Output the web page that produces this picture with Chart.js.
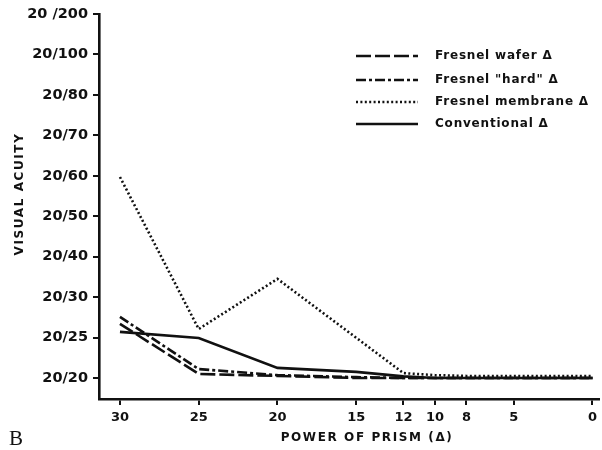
<!DOCTYPE html>
<html lang="en">
<head>
<meta charset="UTF-8">
<title>Visual acuity vs power of prism</title>
<style>
  body { margin: 0; background: #fff; }
  #wrap { width: 602px; height: 450px; position: relative; }
</style>
</head>
<body>
<div id="wrap"><canvas id="chart" width="602" height="450"></canvas></div>
<script src="https://cdn.jsdelivr.net/npm/chart.js@4.4.1/dist/chart.umd.js"></script>
<script>
// power of prism (diopters) read along the x axis
const powers = [30, 25, 20, 15, 12, 10, 8, 5, 0];
const membranePowers = [30, 25, 20, 12, 10, 8, 5, 0];
const xTicks = [30, 25, 20, 15, 12, 10, 8, 5, 0];

// y axis is evenly spaced Snellen steps, index 0 = 20/20
const acuityLabels = ['20/20', '20/25', '20/30', '20/40', '20/50', '20/60', '20/70', '20/80', '20/100', '20 /200'];

// values as step index (fractions = between steps)
const wafer        = [1.34, 0.10, 0.05, 0.00, 0.00, 0.00, 0.00, 0.00, 0.00];
const hard         = [1.51, 0.22, 0.07, 0.02, 0.00, 0.00, 0.00, 0.00, 0.00];
const conventional = [1.14, 0.99, 0.25, 0.15, 0.04, 0.00, 0.00, 0.00, 0.00];
const membrane     = [4.97, 1.21, 2.45, 0.12, 0.07, 0.05, 0.05, 0.05];

const seriesNames = ['Fresnel wafer \u0394', 'Fresnel "hard" \u0394', 'Fresnel membrane \u0394', 'Conventional \u0394'];

function pts(xs, ys) {
  return xs.map((x, i) => ({ x: x, y: ys[i] }));
}

const BOLD = '"DejaVu Sans", Arial, sans-serif';

const lineStyles = [
  { borderDash: [15, 4], borderWidth: 2.6, borderCapStyle: 'butt' },
  { borderDash: [10, 3, 3, 3], borderWidth: 2.6, borderCapStyle: 'butt' },
  { borderDash: [2, 2.4], borderWidth: 2.6, borderCapStyle: 'butt' },
  { borderDash: [], borderWidth: 2.6, borderCapStyle: 'butt' }
];

// legend + free texts drawn on top
const extras = {
  id: 'extras',
  afterDraw(chart) {
    const ctx = chart.ctx;
    ctx.save();
    const rows = [56, 80, 102, 124];
    chart.data.datasets.forEach((ds, i) => {
      ctx.beginPath();
      ctx.strokeStyle = '#111';
      ctx.lineWidth = ds.borderWidth;
      ctx.setLineDash(ds.borderDash);
      ctx.moveTo(356, rows[i]);
      ctx.lineTo(418, rows[i]);
      ctx.stroke();
      ctx.setLineDash([]);
      ctx.fillStyle = '#111';
      ctx.font = 'bold 12px ' + BOLD;
      ctx.letterSpacing = '0.8px';
      ctx.textBaseline = 'middle';
      ctx.textAlign = 'left';
      ctx.fillText(seriesNames[i], 435, rows[i]);
    });

    // axis titles
    ctx.font = 'bold 12px ' + BOLD;
    ctx.letterSpacing = '1.6px';
    ctx.textAlign = 'center';
    ctx.textBaseline = 'middle';
    ctx.fillText('POWER OF PRISM (\u0394)', 367, 438);
    ctx.translate(20, 194);
    ctx.rotate(-Math.PI / 2);
    ctx.fillText('VISUAL ACUITY', 0, 0);
    ctx.restore();

    ctx.save();
    ctx.fillStyle = '#111';
    ctx.font = '21px "Liberation Serif", serif';
    ctx.textAlign = 'left';
    ctx.textBaseline = 'middle';
    ctx.fillText('B', 9, 439);
    ctx.restore();
  }
};

new Chart(document.getElementById('chart'), {
  type: 'line',
  data: {
    datasets: [
      Object.assign({ label: seriesNames[0], data: pts(powers, wafer) }, lineStyles[0]),
      Object.assign({ label: seriesNames[1], data: pts(powers, hard) }, lineStyles[1]),
      Object.assign({ label: seriesNames[2], data: pts(membranePowers, membrane) }, lineStyles[2]),
      Object.assign({ label: seriesNames[3], data: pts(powers, conventional) }, lineStyles[3])
    ].map(d => Object.assign(d, { borderColor: '#111', pointRadius: 0, tension: 0, fill: false }))
  },
  options: {
    responsive: false,
    animation: false,
    layout: { padding: { top: 14, right: 1, left: 0, bottom: 0 } },
    plugins: { legend: { display: false }, tooltip: { enabled: false } },
    scales: {
      x: {
        type: 'linear',
        reverse: true,
        min: -0.4,
        max: 31.33,
        afterBuildTicks: s => { s.ticks = xTicks.map(v => ({ value: v })); },
        afterFit: s => { s.height = 51; },
        grid: { display: true, drawOnChartArea: false, drawTicks: true, tickLength: 6, color: '#111', lineWidth: 2 },
        border: { display: true, color: '#111', width: 2.6 },
        ticks: { color: '#111', font: { family: BOLD, weight: 'bold', size: 13 }, padding: 5, maxRotation: 0, autoSkip: false }
      },
      y: {
        type: 'linear',
        min: -0.52,
        max: 9,
        afterBuildTicks: s => { s.ticks = acuityLabels.map((l, i) => ({ value: i })); },
        afterFit: s => { s.width = 99; },
        grid: { display: true, drawOnChartArea: false, drawTicks: true, tickLength: 6, color: '#111', lineWidth: 2 },
        border: { display: true, color: '#111', width: 2.6 },
        ticks: {
          color: '#111',
          font: { family: BOLD, weight: 'bold', size: 14.5 },
          padding: 5,
          autoSkip: false,
          callback: v => acuityLabels[v]
        }
      }
    }
  },
  plugins: [extras]
});
</script>
</body>
</html>
